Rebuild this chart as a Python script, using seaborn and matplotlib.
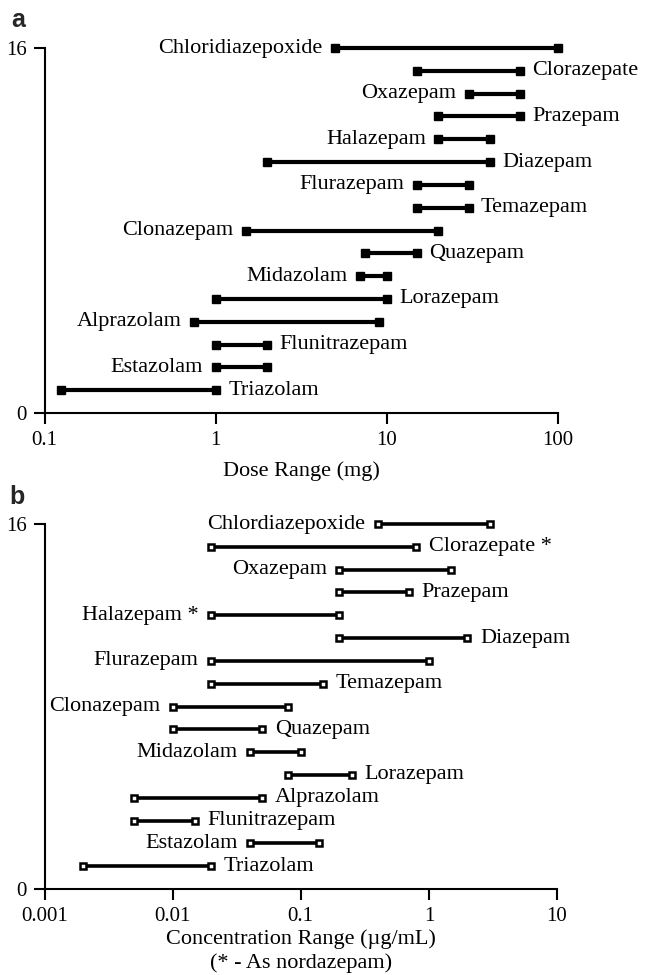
import matplotlib
matplotlib.use("Agg")
import matplotlib.pyplot as plt
import numpy as np
import pandas as pd
import seaborn as sns
from matplotlib.ticker import FixedLocator, FixedFormatter, NullLocator

# ---------------- data ----------------
drugs_a = ["Chloridiazepoxide", "Clorazepate", "Oxazepam", "Prazepam", "Halazepam",
           "Diazepam", "Flurazepam", "Temazepam", "Clonazepam", "Quazepam",
           "Midazolam", "Lorazepam", "Alprazolam", "Flunitrazepam", "Estazolam", "Triazolam"]
dose_low = [5, 15, 30, 20, 20, 2, 15, 15, 1.5, 7.5, 7, 1, 0.75, 1, 1, 0.125]
dose_high = [100, 60, 60, 60, 40, 40, 30, 30, 20, 15, 10, 10, 9, 2, 2, 1]
label_side_a = ["L", "R", "L", "R", "L", "R", "L", "R", "L", "R", "L", "R", "L", "R", "L", "R"]

drugs_b = ["Chlordiazepoxide", "Clorazepate *", "Oxazepam", "Prazepam", "Halazepam *",
           "Diazepam", "Flurazepam", "Temazepam", "Clonazepam", "Quazepam",
           "Midazolam", "Lorazepam", "Alprazolam", "Flunitrazepam", "Estazolam", "Triazolam"]
conc_low = [0.4, 0.02, 0.2, 0.2, 0.02, 0.2, 0.02, 0.02, 0.01, 0.01, 0.04, 0.08, 0.005, 0.005, 0.04, 0.002]
conc_high = [3.0, 0.8, 1.5, 0.7, 0.2, 2.0, 1.0, 0.15, 0.08, 0.05, 0.1, 0.25, 0.05, 0.015, 0.14, 0.02]
label_side_b = ["L", "R", "L", "R", "L", "R", "L", "R", "L", "R", "L", "R", "R", "R", "L", "R"]

rows = list(range(16, 0, -1))
xticks_a = [0.1, 1, 10, 100]
xticklabels_a = ["0.1", "1", "10", "100"]
xticks_b = [0.001, 0.01, 0.1, 1, 10]
xticklabels_b = ["0.001", "0.01", "0.1", "1", "10"]
yticks = [0, 16]
yticklabels = ["0", "16"]

# ---------------- style ----------------
sns.set_theme(style="ticks")
plt.rcParams["font.family"] = ["Liberation Serif", "DejaVu Serif"]

W, H = 645, 975
fig = plt.figure(figsize=(W / 100, H / 100), dpi=100)
fig.patch.set_facecolor("white")

def axes_px(x0, x1, ytop, ybot):
    return fig.add_axes([x0 / W, 1 - ybot / H, (x1 - x0) / W, (ybot - ytop) / H])

ax_a = axes_px(44.5, 558, 48, 413)
ax_b = axes_px(44.5, 557, 524, 889)

LABEL_FS = 16
TICK_FS = 15

def draw_panel(ax, drugs, low, high, sides, xlim, xticks, xticklabels, xlabel,
               lw, ms, mfc, mew, labelpad, linespacing):
    df = pd.DataFrame({
        "drug": drugs * 2,
        "value": list(low) + list(high),
        "row": rows * 2,
    })
    ax.set_xscale("log")
    sns.lineplot(data=df, x="value", y="row", units="drug", estimator=None, sort=False,
                 color="black", lw=lw, marker="s", ms=ms, mfc=mfc, mec="black",
                 mew=mew, legend=False, ax=ax)
    for ln in ax.lines:
        ln.set_clip_on(False)
        ln.set_solid_capstyle("butt")
    for name, lo, hi, y, s in zip(drugs, low, high, rows, sides):
        if s == "L":
            ax.annotate(name, (lo, y), xytext=(-9, 0), textcoords="offset points",
                        ha="right", va="center", fontsize=LABEL_FS, color="black")
        else:
            ax.annotate(name, (hi, y), xytext=(9, 0), textcoords="offset points",
                        ha="left", va="center", fontsize=LABEL_FS, color="black")
    ax.set_xlim(*xlim)
    ax.set_ylim(0, 16)
    ax.xaxis.set_major_locator(FixedLocator(xticks))
    ax.xaxis.set_major_formatter(FixedFormatter(xticklabels))
    ax.xaxis.set_minor_locator(NullLocator())
    ax.yaxis.set_major_locator(FixedLocator(yticks))
    ax.yaxis.set_major_formatter(FixedFormatter(yticklabels))
    ax.yaxis.set_minor_locator(NullLocator())
    for side in ("top", "right"):
        ax.spines[side].set_visible(False)
    for side in ("left", "bottom"):
        ax.spines[side].set_linewidth(1.5)
        ax.spines[side].set_color("black")
    ax.tick_params(axis="both", direction="out", length=8, width=1.5, colors="black",
                   labelsize=TICK_FS, pad=5)
    ax.set_xlabel(xlabel, fontsize=LABEL_FS, color="black", labelpad=labelpad,
                  linespacing=linespacing)
    ax.set_ylabel("")
    ax.set_facecolor("white")

draw_panel(ax_a, drugs_a, dose_low, dose_high, label_side_a, (0.1, 100),
           xticks_a, xticklabels_a, "Dose Range (mg)", lw=3.0, ms=6.2, mfc="black",
           mew=1.0, labelpad=8, linespacing=1.2)
draw_panel(ax_b, drugs_b, conc_low, conc_high, label_side_b, (0.001, 10),
           xticks_b, xticklabels_b,
           "Concentration Range (µg/mL)\n(* - As nordazepam)",
           lw=2.6, ms=4.2, mfc="white", mew=1.8, labelpad=2, linespacing=1.3)

fig.text(11 / W, 1 - 20 / H, "a", fontsize=18, fontweight="bold",
         family=["Liberation Sans", "DejaVu Sans"], ha="left", va="center")
fig.text(9 / W, 1 - 497 / H, "b", fontsize=18, fontweight="bold",
         family=["Liberation Sans", "DejaVu Sans"], ha="left", va="center")

fig.savefig("out.png", dpi=100, facecolor="white")
